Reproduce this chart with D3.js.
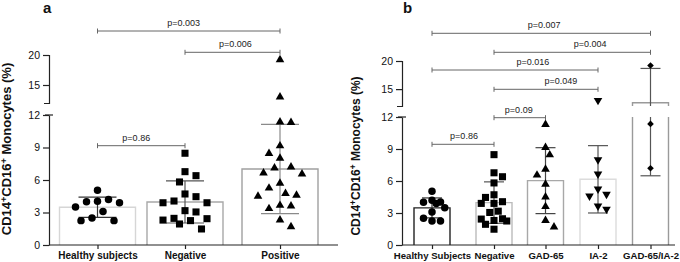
<!DOCTYPE html>
<html>
<head>
<meta charset="utf-8">
<script src="https://cdn.jsdelivr.net/npm/d3@7"></script>
<style>
  html, body { margin: 0; padding: 0; background: #fff; }
  svg { display: block; font-family: "Liberation Sans", Arial, sans-serif; }
</style>
</head>
<body>
<svg id="chart" width="680" height="262"></svg>
<script>
// ---------------- DATA ----------------
const catsA = ["Healthy subjects", "Negative", "Positive"];
const catsB = ["Healthy Subjects", "Negative", "GAD-65", "IA-2", "GAD-65/IA-2"];

const healthy  = [5.05, 4.2, 4.03, 4.0, 3.9, 3.5, 3.1, 2.5, 2.25, 2.25];
const negative = [8.47, 6.77, 6.4, 5.82, 4.71, 4.46, 4.06, 3.9, 3.9, 3.17, 3.05, 2.46, 2.43, 2.3, 2.25, 1.94, 1.48];
const gad65    = [11.3, 9.15, 8.45, 7.1, 6.55, 5.7, 4.5, 3.6, 2.3, 1.68];
const ia2      = [13.0, 8.0, 6.65, 5.25, 4.75, 4.6, 3.66, 3.36];
const gadIa2   = [19.2, 11.35, 7.2];
const positive = [...gad65, ...ia2, ...gadIa2];

const yTicksLow  = [0, 3, 6, 9, 12];
const yTicksHigh = [15, 20];

const pairsA = [[0, 2, "p=0.003"], [1, 2, "p=0.006"], [0, 1, "p=0.86"]];
const pairsB = [[0, 4, "p=0.007"], [1, 4, "p=0.004"], [0, 3, "p=0.016"], [1, 3, "p=0.049"], [1, 2, "p=0.09"], [0, 1, "p=0.86"]];

// ---------------- LAYOUT ----------------
const svg = d3.select("#chart");

const panels = [
  {
    letter: "a", letterX: 43, titleX: 11, titleY: 149, titleSize: 13, xLabelSize: 10,
    axisX: 49, axisEnd: 338, low: [245, 115], high: [103, 55],
    cats: catsA, centers: [97.5, 185, 280],
    groups: [healthy, negative, positive],
    symbols: ["circle", "square", "triangle"],
    barColors: ["#d6d6d6", "#a8a8a8", "#a0a0a0"],
    errColors: ["#333", "#555", "#8a8a8a"],
    barW: 76, capW: 38, step: 11, maxOff: 27,
    pairs: pairsA, pairY: [31, 52.3, 145.7], pairDx: [-5, 3, -5]
  },
  {
    letter: "b", letterX: 403, titleX: 360, titleY: 156, titleSize: 12, xLabelSize: 9.6,
    axisX: 402, axisEnd: 675, low: [245, 117], high: [106, 61],
    cats: catsB, centers: [432, 494, 545.5, 598, 650.5],
    groups: [healthy, negative, gad65, ia2, gadIa2],
    symbols: ["circle", "square", "triangle", "triangleDown", "diamond"],
    barColors: ["#222", "#bbbbbb", "#a8a8a8", "#dcdcdc", "#9a9a9a"],
    errColors: ["#333", "#555", "#444", "#555", "#555"],
    barW: 36, capW: 20, step: 8.5, maxOff: 15,
    pairs: pairsB, pairY: [33.3, 52.3, 70, 89.3, 117.7, 144.3], pairDx: [3, 18, 18, 15, -1, 1]
  }
];

const symSize = { circle: 44, square: 50, triangle: 32, triangleDown: 32, diamond: 22 };

function symbolPath(name) {
  const size = symSize[name];
  if (name === "circle") return d3.symbol(d3.symbolCircle, size)();
  if (name === "square" || name === "diamond") return d3.symbol(d3.symbolSquare, size)();
  return d3.symbol(d3.symbolTriangle, size)();
}
function symbolRot(name) {
  if (name === "triangleDown") return 180;
  if (name === "diamond") return 45;
  return 0;
}

// greedy beeswarm
function swarm(values, yf, step, maxOff) {
  const pts = values.map(v => ({ v, y: yf(v), dx: 0 }));
  const order = pts.slice().sort((a, b) => a.y - b.y);
  const placed = [];
  let flip = 1;
  for (const p of order) {
    const cands = [0];
    for (let k = 1; k * step / 2 <= maxOff + 0.01; k++) {
      cands.push(flip * k * step / 2, -flip * k * step / 2);
    }
    let chosen = null, bestMin = -1, bestC = 0;
    for (const c of cands) {
      let minD = Infinity;
      for (const q of placed) minD = Math.min(minD, Math.hypot(q.dx - c, q.y - p.y));
      if (minD >= step) { chosen = c; break; }
      if (minD > bestMin) { bestMin = minD; bestC = c; }
    }
    p.dx = chosen === null ? bestC : chosen;
    if (p.dx !== 0) flip = -Math.sign(p.dx);
    placed.push(p);
  }
  return pts;
}

panels.forEach(P => {
  const g = svg.append("g");
  const yLow = d3.scaleLinear().domain([0, 12]).range(P.low);
  const yHigh = d3.scaleLinear().domain([12, 20]).range(P.high);
  const segs = [{ s: yLow, d: [0, 12] }, { s: yHigh, d: [12, 20] }];
  const y = v => (v > 12 ? yHigh(v) : yLow(v));
  const x = d3.scaleOrdinal().domain(P.cats).range(P.centers);

  // panel letter
  g.append("text").attr("x", P.letterX).attr("y", 12.5)
    .attr("font-size", 15).attr("font-weight", "bold").attr("fill", "#111").text(P.letter);

  // y title
  const t = g.append("text")
    .attr("transform", `translate(${P.titleX},${P.titleY}) rotate(-90)`)
    .attr("text-anchor", "middle").attr("font-size", P.titleSize).attr("font-weight", "bold").attr("fill", "#111");
  t.append("tspan").text("CD14");
  t.append("tspan").attr("dy", -4.5).attr("font-size", P.titleSize * 0.7).text("+");
  t.append("tspan").attr("dy", 4.5).text("CD16");
  t.append("tspan").attr("dy", -4.5).attr("font-size", P.titleSize * 0.7).text("+");
  t.append("tspan").attr("dy", 4.5).text(" Monocytes (%)");

  // bars
  P.groups.forEach((vals, i) => {
    const m = d3.mean(vals);
    const cx = x(P.cats[i]);
    const l = cx - P.barW / 2, r = cx + P.barW / 2;
    segs.forEach(sg => {
      if (m <= sg.d[0]) return;
      let path;
      if (m <= sg.d[1]) {
        path = `M${l},${sg.s(sg.d[0])}V${sg.s(m)}H${r}V${sg.s(sg.d[0])}`;
      } else {
        path = `M${l},${sg.s(sg.d[0])}V${sg.s(sg.d[1])}M${r},${sg.s(sg.d[1])}V${sg.s(sg.d[0])}`;
      }
      g.append("path").attr("d", path).attr("fill", m <= sg.d[1] ? "#fff" : "none")
        .attr("stroke", P.barColors[i]).attr("stroke-width", 1.4);
    });
  });

  // error bars (mean ± SD)
  P.groups.forEach((vals, i) => {
    const m = d3.mean(vals), sd = d3.deviation(vals);
    const lo = m - sd, hi = m + sd;
    const cx = x(P.cats[i]);
    segs.forEach(sg => {
      const a = Math.max(lo, sg.d[0]), b = Math.min(hi, sg.d[1]);
      if (a < b) {
        g.append("line").attr("x1", cx).attr("x2", cx).attr("y1", sg.s(a)).attr("y2", sg.s(b))
          .attr("stroke", P.errColors[i]).attr("stroke-width", 1.2);
      }
    });
    [lo, hi].forEach(v => {
      g.append("line").attr("x1", cx - P.capW / 2).attr("x2", cx + P.capW / 2)
        .attr("y1", y(v)).attr("y2", y(v)).attr("stroke", P.errColors[i]).attr("stroke-width", 1.2);
    });
  });

  // points
  P.groups.forEach((vals, i) => {
    const cx = x(P.cats[i]);
    const pts = swarm(vals, y, P.step, P.maxOff);
    const sym = P.symbols[i];
    g.append("g").selectAll("path").data(pts).join("path")
      .attr("d", symbolPath(sym))
      .attr("transform", d => `translate(${cx + d.dx},${d.y}) rotate(${symbolRot(sym)})`)
      .attr("fill", "#000");
  });

  // y axes (broken)
  const axLow = d3.axisLeft(yLow).tickValues(yTicksLow).tickSize(6).tickPadding(3).tickSizeOuter(0);
  const axHigh = d3.axisLeft(yHigh).tickValues(yTicksHigh).tickSize(6).tickPadding(3).tickSizeOuter(5);
  [axLow, axHigh].forEach(ax => {
    const ga = g.append("g").attr("transform", `translate(${P.axisX},0)`).call(ax);
    ga.selectAll("text").attr("font-size", 10.5).attr("fill", "#111").attr("font-family", "Liberation Sans, Arial, sans-serif");
    ga.selectAll("line,path").attr("stroke", "#222").attr("stroke-width", 1.2);
  });
  g.append("line").attr("x1", P.axisX - 4).attr("x2", P.axisX + 4)
    .attr("y1", yLow(12)).attr("y2", yLow(12)).attr("stroke", "#222").attr("stroke-width", 1.2);

  // x axis
  g.append("line").attr("x1", P.axisX).attr("x2", P.axisEnd).attr("y1", yLow(0)).attr("y2", yLow(0))
    .attr("stroke", "#222").attr("stroke-width", 1.2);
  const axX = d3.axisBottom(x).tickSize(4).tickPadding(3).tickSizeOuter(0);
  const gx = g.append("g").attr("transform", `translate(0,${yLow(0)})`).call(axX);
  gx.select(".domain").remove();
  gx.selectAll("line").attr("stroke", "#222").attr("stroke-width", 1.2);
  gx.selectAll("text").attr("font-size", P.xLabelSize).attr("font-weight", "bold").attr("fill", "#111")
    .attr("font-family", "Liberation Sans, Arial, sans-serif");

  // significance brackets
  P.pairs.forEach((pr, k) => {
    const x1 = x(P.cats[pr[0]]), x2 = x(P.cats[pr[1]]), yy = P.pairY[k];
    g.append("path").attr("d", `M${x1},${yy}H${x2}M${x1},${yy - 2.5}V${yy + 2.5}M${x2},${yy - 2.5}V${yy + 2.5}`)
      .attr("stroke", "#666").attr("stroke-width", 1).attr("fill", "none");
    g.append("text").attr("x", (x1 + x2) / 2 + P.pairDx[k]).attr("y", yy - 5)
      .attr("text-anchor", "middle").attr("font-size", 9).attr("fill", "#222").text(pr[2]);
  });
});
</script>
</body>
</html>
